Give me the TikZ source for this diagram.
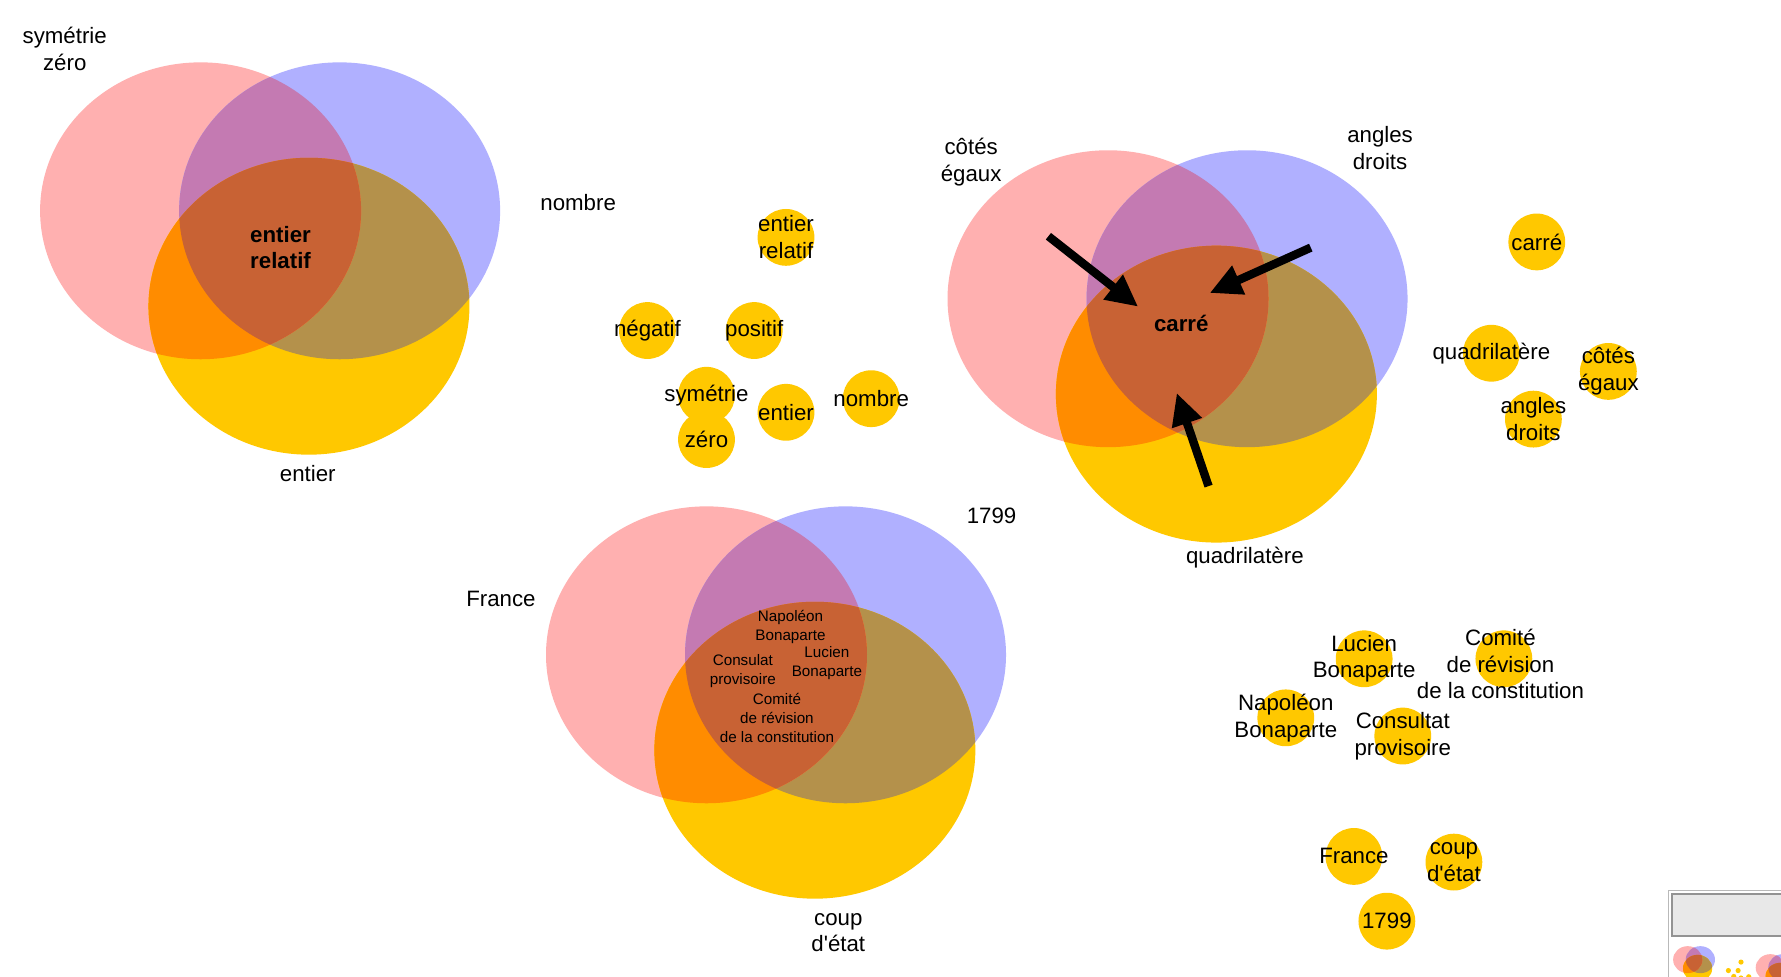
\documentclass[tikz,border=0pt]{standalone}
\usepackage{fontspec}
\newfontfamily\labelfont{Liberation Sans}
\usepackage{tikz}
\usetikzlibrary{arrows.meta}

\definecolor{setpink}{RGB}{255,176,176}
\definecolor{setblue}{RGB}{176,176,255}
\definecolor{setgold}{RGB}{255,200,0}
\definecolor{pinkblue}{RGB}{196,122,178}
\definecolor{pinkgold}{RGB}{255,140,0}
\definecolor{bluegold}{RGB}{180,145,75}
\definecolor{allthree}{RGB}{200,98,52}

% Filled regions of one three-set diagram (#1,#2 = centre of the left set)
\newcommand{\vennshapes}[2]{%
  \begin{scope}[shift={(#1,#2)}]
    \fill[setpink] (0,0) circle[blob];
    \fill[setblue] (122.4,0) circle[blob];
    \fill[setgold] (95.4,84) circle[blob];
    \begin{scope}
      \clip (122.4,0) circle[blob];
      \fill[bluegold] (95.4,84) circle[blob];
    \end{scope}
    \begin{scope}
      \clip (0,0) circle[blob];
      \fill[pinkblue] (122.4,0) circle[blob];
      \fill[pinkgold] (95.4,84) circle[blob];
      \clip (122.4,0) circle[blob];
      \fill[allthree] (95.4,84) circle[blob];
    \end{scope}
  \end{scope}}

\begin{document}
\begin{tikzpicture}[
    x=0.5pt, y=-0.5pt,
    % Node styles
    every node/.style={font=\labelfont\fontsize{9.8}{11.8}\selectfont, inner sep=0pt, align=center},
    tinytext/.style={font=\labelfont\fontsize{6.7}{8.25}\selectfont},
    disc/.style={circle, fill=setgold, minimum size=25pt},
    % Set shapes
    blob/.style={x radius=141.3, y radius=130.7},
    % Thick arrows onto the centre
    pointer/.style={line width=3.7pt, -{Triangle[length=14pt, width=13pt]}}
]
    \fill[white] (0,0) rectangle (1568,860);
    \useasboundingbox (0,0) rectangle (1568,860);

    % =========================================================================
    % 1. THE THREE DIAGRAMS
    % =========================================================================
    \vennshapes{176.6}{185.6}
    \vennshapes{975.5}{263}
    \vennshapes{622}{576.5}

    % --- Integers ---
    \node (symzero) at (57,43) {symétrie\\zéro};
    \node (number) at (509,178) {nombre};
    \node (integer) at (271,417) {entier};
    \node[font=\labelfont\bfseries\fontsize{9.8}{11.8}\selectfont] (relint) at (247,218) {entier\\relatif};

    % --- Square ---
    \node (equalsides) at (855,143) {côtés\\égaux};
    \node (rightangles) at (1215,130) {angles\\droits};
    \node (quad) at (1096,491) {quadrilatère};
    \node[font=\labelfont\bfseries\fontsize{9.8}{11.8}\selectfont] (square) at (1040,285) {carré};

    \coordinate (tailA) at (923,208);  \coordinate (tipA) at (1002,270);
    \coordinate (tailB) at (1154,218); \coordinate (tipB) at (1065,258);
    \coordinate (tailC) at (1064,428); \coordinate (tipC) at (1036,346);
    \draw[pointer] (tailA) -- (tipA);
    \draw[pointer] (tailB) -- (tipB);
    \draw[pointer] (tailC) -- (tipC);

    % --- Brumaire ---
    \node (france) at (441,527) {France};
    \node (year) at (873,454) {1799};
    \node (coup) at (738,821) {coup\\d'état};
    \node[tinytext] (napoleon) at (696,552) {Napoléon\\Bonaparte};
    \node[tinytext] (lucien) at (728,584) {Lucien\\Bonaparte};
    \node[tinytext] (consulat) at (654,591) {Consulat\\provisoire};
    \node[tinytext] (comite) at (684,632) {Comité\\de révision\\de la constitution};

    % =========================================================================
    % 2. LOOSE ITEMS
    % =========================================================================
    \foreach \x/\y/\txt [count=\i] in {
        692/209/{entier\\relatif}, 570/291/négatif, 664/291/positif,
        622/348/symétrie, 622/387/zéro, 692/363/entier, 767/351/nombre,
        1353/213/carré, 1313/311/quadrilatère, 1416/327/{côtés\\égaux},
        1350/369/{angles\\droits},
        1201/580/{Lucien\\Bonaparte}, 1132/632/{Napoléon\\Bonaparte},
        1235/648/{Consultat\\provisoire}, 1192/754/France,
        1280/759/{coup\\d'état}, 1221/811/1799}
        \node[disc, label=center:{\txt}] (dot\i) at (\x,\y) {};
    \node[disc, label={[xshift=-1.5pt, yshift=-2.3pt]center:{Comité\\de révision\\de la constitution}}] (dotcomite) at (1324,580) {};

    % =========================================================================
    % 3. OVERVIEW PANEL (lower right corner)
    % =========================================================================
    \draw[gray!55] (1469,784) rectangle (1600,900);
    \filldraw[fill=gray!18, draw=gray!85, line width=1.2pt] (1472,787) rectangle (1600,824);
    \begin{scope}
        \clip (1470,827) rectangle (1568,860);
        \begin{scope}[shift={(1469.8,828)}, scale=0.091]
            \vennshapes{176.6}{185.6}
            \vennshapes{975.5}{263}
            \foreach \x/\y in {692/209, 570/291, 664/291, 622/348, 622/387, 692/363, 767/351}
                \fill[setgold] (\x,\y) circle (25);
        \end{scope}
    \end{scope}

\end{tikzpicture}
\end{document}
